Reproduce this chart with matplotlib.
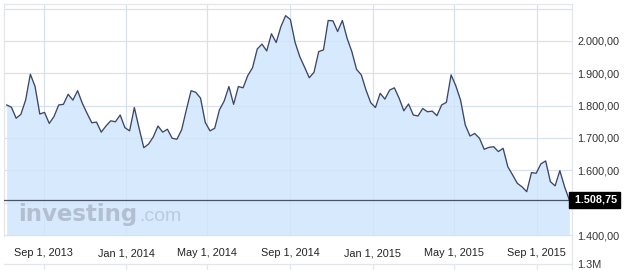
import matplotlib
matplotlib.use("Agg")
import matplotlib.pyplot as plt
import pandas as pd

# ---- data ----
start_date = "2013-07-08"
values = [1802, 1795, 1761, 1773, 1817, 1897, 1859, 1774, 1779, 1745,
          1766, 1802, 1804, 1835, 1817, 1846, 1807, 1776, 1747, 1749,
          1718, 1737, 1753, 1750, 1771, 1732, 1722, 1794, 1730, 1670,
          1681, 1703, 1737, 1718, 1727, 1699, 1696, 1725, 1787, 1846,
          1841, 1823, 1748, 1722, 1730, 1787, 1814, 1859, 1804, 1859,
          1855, 1893, 1917, 1975, 1990, 1969, 2022, 1995, 2044, 2078,
          2066, 1995, 1951, 1919, 1886, 1903, 1967, 1972, 2063, 2062,
          2029, 2063, 2008, 1967, 1912, 1895, 1848, 1809, 1794, 1838,
          1820, 1848, 1855, 1823, 1784, 1805, 1771, 1768, 1791, 1781,
          1783, 1769, 1802, 1810, 1895, 1861, 1817, 1740, 1706, 1714,
          1699, 1665, 1671, 1673, 1658, 1668, 1611, 1586, 1560, 1549,
          1534, 1593, 1591, 1620, 1629, 1565, 1552, 1599, 1549, 1508.75]
last_value = 1508.75
x_tick_dates = ["2013-09-01", "2014-01-01", "2014-05-01", "2014-09-01",
                "2015-01-01", "2015-05-01", "2015-09-01"]
x_tick_labels = ["Sep 1, 2013", "Jan 1, 2014", "May 1, 2014", "Sep 1, 2014",
                 "Jan 1, 2015", "May 1, 2015", "Sep 1, 2015"]
y_ticks = [1400, 1600, 1700, 1800, 1900, 2000]
y_grid = [1400, 1500, 1600, 1700, 1800, 1900, 2000, 2100]
volume_label = "1.3M"

dates = pd.date_range(start_date, periods=len(values), freq="7D")


def fmt(v):
    s = f"{v:,.2f}"
    return s.replace(",", "X").replace(".", ",").replace("X", ".")


plt.rcParams['font.family'] = ['Liberation Sans', 'DejaVu Sans']

W, H = 633, 270
fig = plt.figure(figsize=(W / 100, H / 100), dpi=100)
fig.patch.set_facecolor("white")

ax_l, ax_r = 4, 572
ax_t, ax_b = 4, 235.7
ax = fig.add_axes([ax_l / W, 1 - ax_b / H, (ax_r - ax_l) / W, (ax_b - ax_t) / H])

grid_c = "#e4e6ee"
xlim = (pd.Timestamp("2013-07-04"), pd.Timestamp("2015-10-23"))
ax.set_xlim(xlim)
ax.set_ylim(1398, 2114)

ax.fill_between(dates, values, 1398, color="#d6e9fd", zorder=1, linewidth=0)

for g in y_grid:
    ax.axhline(g, color=grid_c, lw=0.9, zorder=0.5)
for d in x_tick_dates:
    ax.axvline(pd.Timestamp(d), color=grid_c, lw=0.9, zorder=0.5)

for g in y_grid:
    ax.axhline(g, color="#c9dcf2", lw=0.6, zorder=1.5, alpha=0.5)
for d in x_tick_dates:
    ax.axvline(pd.Timestamp(d), color="#c9dcf2", lw=0.6, zorder=1.5, alpha=0.5)

# watermark
ax.text(0.024, 0.065, "investing", transform=ax.transAxes, fontsize=16.5,
        fontweight="heavy", family="DejaVu Sans", color="#b3bfd0", zorder=2,
        ha="left", va="baseline")
ax.text(0.238, 0.065, ".com", transform=ax.transAxes, fontsize=14,
        family="Liberation Sans", color="#bccade", zorder=2,
        ha="left", va="baseline")

ax.plot(dates, values, color="#3b4669", lw=0.95, zorder=3)
ax.axhline(last_value, color="#4b5466", lw=0.9, zorder=3.5)

ax.set_facecolor("white")
for s in ["left", "top", "right"]:
    ax.spines[s].set_color(grid_c)
    ax.spines[s].set_linewidth(0.9)
ax.spines["bottom"].set_visible(False)

ax.yaxis.tick_right()
ax.set_yticks(y_ticks)
ax.set_yticklabels([fmt(v) for v in y_ticks])
ax.tick_params(axis="y", length=0, pad=4, labelsize=7.8, labelcolor="#333333")
ax.set_xticks([pd.Timestamp(d) for d in x_tick_dates])
ax.set_xticklabels(x_tick_labels)
ax.tick_params(axis="x", length=0, pad=9, labelsize=7.8, labelcolor="#222222")

ax.text(1.0, last_value, " " + fmt(last_value), transform=ax.get_yaxis_transform(),
        ha="left", va="center", fontsize=7.8, fontweight="bold", color="white",
        zorder=5, clip_on=False,
        bbox=dict(boxstyle="square,pad=0.25", facecolor="black", edgecolor="black"))

# volume panel (cut off)
v_top = 264
ax2 = fig.add_axes([ax_l / W, 1 - 300 / H, (ax_r - ax_l) / W, (300 - v_top) / H])
ax2.set_xlim(xlim)
ax2.set_ylim(0, 1.3)
ax2.set_facecolor("white")
for d in x_tick_dates:
    ax2.axvline(pd.Timestamp(d), color=grid_c, lw=0.9)
for s in ["left", "bottom"]:
    ax2.spines[s].set_visible(False)
for s in ["top", "right"]:
    ax2.spines[s].set_color(grid_c)
    ax2.spines[s].set_linewidth(0.9)
ax2.set_xticks([])
ax2.yaxis.tick_right()
ax2.set_yticks([1.3])
ax2.set_yticklabels([volume_label])
ax2.tick_params(axis="y", length=0, pad=4, labelsize=7.8, labelcolor="#333333")
for lab in ax2.get_yticklabels():
    lab.set_clip_on(False)

fig.add_artist(plt.Line2D([ax_r / W, ax_r / W], [1 - ax_b / H, 1 - v_top / H],
                          transform=fig.transFigure, color=grid_c, lw=0.9))

fig.savefig("out.png", dpi=100, facecolor="white")
